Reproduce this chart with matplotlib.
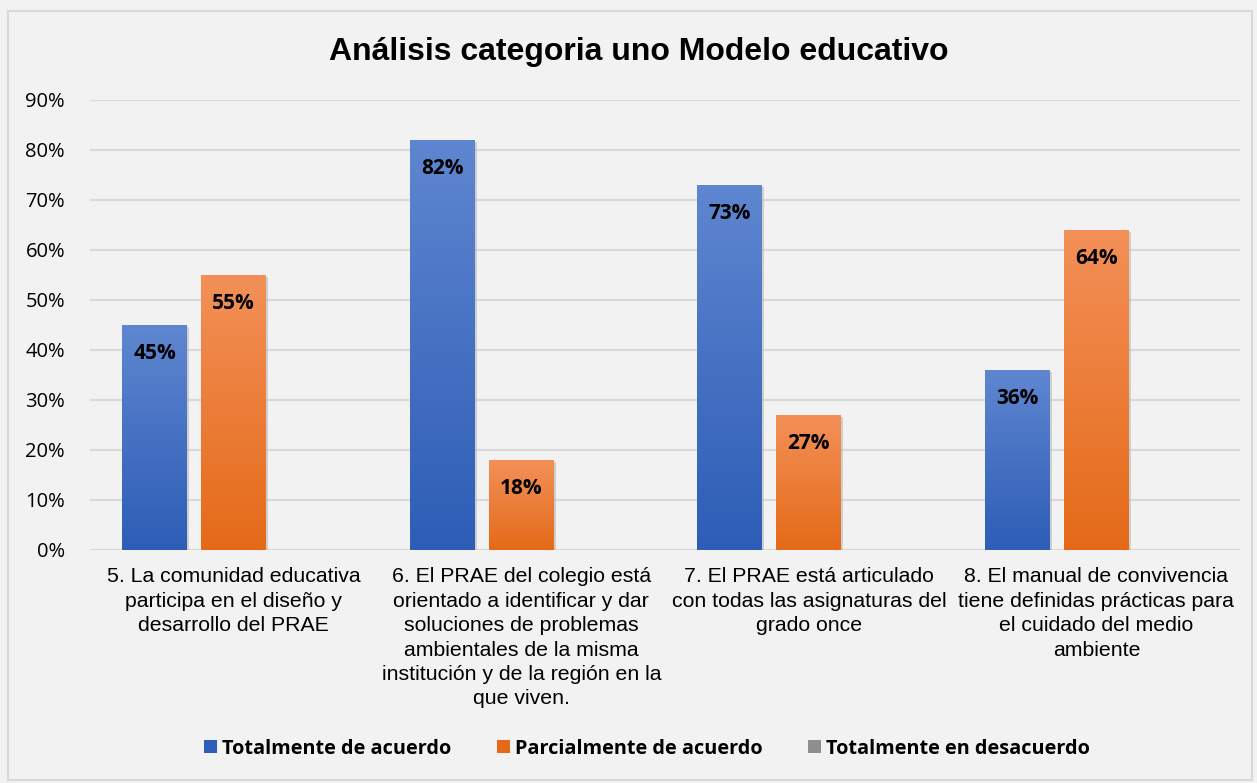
import numpy as np
import matplotlib.pyplot as plt
from matplotlib.colors import LinearSegmentedColormap
from matplotlib.patches import Rectangle
import matplotlib.patheffects as pe

# Data
categorias = [
    '5. La comunidad educativa\nparticipa en el diseño y\ndesarrollo del PRAE',
    '6. El PRAE del colegio está\norientado a identificar y dar\nsoluciones de problemas\nambientales de la misma\ninstitución y de la región en la\nque viven.',
    '7. El PRAE está articulado\ncon todas las asignaturas del\ngrado once',
    '8. El manual de convivencia\ntiene definidas prácticas para\nel cuidado del medio\nambiente',
]
series = ['Totalmente de acuerdo', 'Parcialmente de acuerdo', 'Totalmente en desacuerdo']
totalmente = [0.45, 0.82, 0.73, 0.36]
parcialmente = [0.55, 0.18, 0.27, 0.64]
desacuerdo = [0.0, 0.0, 0.0, 0.0]

# gradients: top colour -> bottom colour
colores = [('#5F86D0', '#2D5DB6'), ('#F39058', '#E46A18'), ('#B0B0B0', '#8E8E8E')]

bg = '#F2F2F2'
fig = plt.figure(figsize=(12.57, 7.83), dpi=100, facecolor=bg)
fig.patches.append(Rectangle((0.006, 0.004), 0.99, 0.982, transform=fig.transFigure,
                             fill=False, edgecolor='#D9D9D9', linewidth=1.5))
ax = fig.add_axes([0.0716, 0.2976, 0.915, 0.5747], facecolor=bg)

x = np.arange(len(categorias))
ancho = 0.226
paso = 0.275
valores = [totalmente, parcialmente, desacuerdo]

for i, vals in enumerate(valores):
    cmap = LinearSegmentedColormap.from_list('g%d' % i, [colores[i][1], colores[i][0]])
    bars = ax.bar(x + (i - 1) * paso, vals, ancho, color=colores[i][1], zorder=3,
                  label=series[i],
                  path_effects=[pe.SimplePatchShadow(offset=(1.5, -1.5), shadow_rgbFace='#B8B8B8', alpha=0.6),
                                pe.Normal()])
    for b, v in zip(bars, vals):
        if v <= 0:
            continue
        x0, w = b.get_x(), b.get_width()
        grad = np.linspace(0, 1, 256).reshape(-1, 1)
        im = ax.imshow(grad, cmap=cmap, origin='lower', aspect='auto',
                       extent=(x0, x0 + w, 0, v), zorder=4)
        im.set_clip_path(b)
        ax.text(b.get_x() + w / 2, v - 0.037, '%d%%' % round(v * 100), ha='center', va='top',
                fontsize=15, fontweight='bold', family='Open Sans', color='black', zorder=5)

ax.set_xlim(-0.5, 3.5)
ax.set_ylim(0, 0.9)
ax.set_yticks(np.arange(0, 0.91, 0.1))
ax.set_yticklabels(['%d%%' % v for v in range(0, 91, 10)], family='Open Sans', fontsize=14.5)
ax.set_xticks(x)
ax.set_xticklabels(categorias, family='Liberation Sans', fontsize=15.3, linespacing=1.36)
ax.tick_params(axis='both', length=0, colors='black')
ax.tick_params(axis='y', pad=18)
ax.tick_params(axis='x', pad=12.5)
ax.grid(axis='y', color='#D9D9D9', linewidth=1.5, zorder=0)
for s in ax.spines.values():
    s.set_visible(False)

fig.text(0.508, 0.934, 'Análisis categoria uno Modelo educativo', ha='center', va='center',
         family='Liberation Sans', fontweight='bold', fontsize=23)

handles = [Rectangle((0, 0), 1, 1, facecolor=c[1]) for c in colores]
leg = fig.legend(handles, series, loc='center', bbox_to_anchor=(0.515, 0.044), ncol=3,
                 frameon=False, handlelength=0.65, handleheight=0.65, handletextpad=0.25,
                 columnspacing=2.3, prop={'family': 'Open Sans', 'weight': 'bold', 'size': 14.3})

fig.savefig('out.png', dpi=100, facecolor=bg)
